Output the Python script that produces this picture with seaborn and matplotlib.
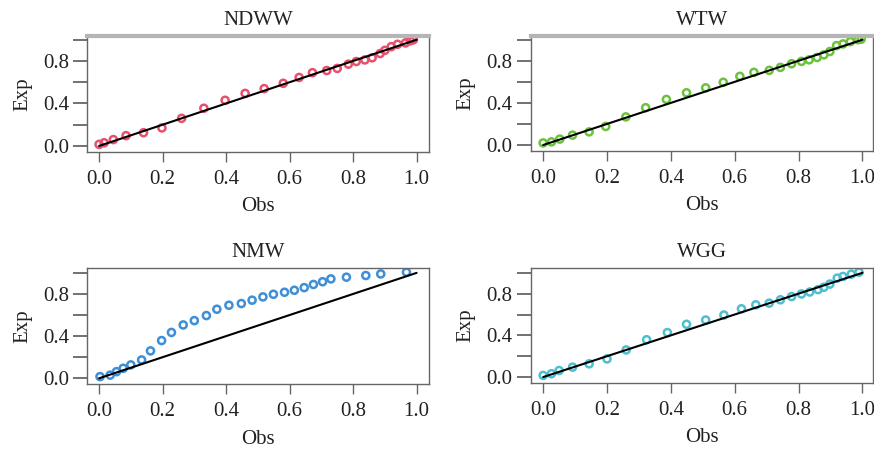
import numpy as np
import pandas as pd
import matplotlib
matplotlib.use("Agg")
import matplotlib.pyplot as plt
import seaborn as sns

titles = ["NDWW", "WTW", "NMW", "WGG"]
colors = ["#e8506e", "#6cc23c", "#3d8fd8", "#4fbfd0"]

ndww_obs = [0.0, 0.016, 0.045, 0.085, 0.14, 0.198, 0.26, 0.33, 0.397, 0.46, 0.52, 0.58, 0.63,
            0.672, 0.717, 0.75, 0.785, 0.81, 0.837, 0.86, 0.885, 0.9, 0.92, 0.94, 0.965, 0.98, 0.99]
ndww_exp = [0.015, 0.03, 0.06, 0.097, 0.125, 0.17, 0.26, 0.355, 0.43, 0.495, 0.54, 0.59, 0.645,
            0.69, 0.71, 0.73, 0.77, 0.795, 0.81, 0.83, 0.87, 0.9, 0.935, 0.957, 0.97, 0.99, 1.0]

wtw_obs = [0.0, 0.026, 0.052, 0.092, 0.144, 0.196, 0.259, 0.321, 0.386, 0.449, 0.509, 0.564, 0.616,
           0.66, 0.708, 0.743, 0.778, 0.809, 0.833, 0.858, 0.879, 0.898, 0.919, 0.939, 0.962, 0.986, 0.996]
wtw_exp = [0.02, 0.03, 0.056, 0.094, 0.125, 0.176, 0.267, 0.354, 0.433, 0.496, 0.543, 0.596, 0.652,
           0.69, 0.709, 0.737, 0.772, 0.794, 0.809, 0.831, 0.856, 0.888, 0.944, 0.96, 0.982, 1.0, 1.005]

nmw_obs = [0.003, 0.035, 0.055, 0.076, 0.1, 0.134, 0.162, 0.197, 0.228, 0.265, 0.3, 0.338, 0.371,
           0.409, 0.448, 0.482, 0.516, 0.549, 0.584, 0.615, 0.646, 0.675, 0.704, 0.73, 0.779, 0.84, 0.887, 0.968]
nmw_exp = [0.016, 0.03, 0.063, 0.095, 0.127, 0.174, 0.26, 0.358, 0.435, 0.506, 0.547, 0.595, 0.655,
           0.693, 0.709, 0.741, 0.772, 0.797, 0.816, 0.835, 0.86, 0.89, 0.916, 0.943, 0.959, 0.975, 0.99, 1.006]

wgg_obs = [0.0, 0.026, 0.05, 0.092, 0.144, 0.2, 0.26, 0.324, 0.389, 0.449, 0.509, 0.566, 0.621,
           0.666, 0.708, 0.743, 0.778, 0.809, 0.835, 0.861, 0.879, 0.898, 0.921, 0.939, 0.965, 0.989]
wgg_exp = [0.016, 0.032, 0.063, 0.095, 0.127, 0.174, 0.26, 0.358, 0.427, 0.506, 0.547, 0.595, 0.655,
           0.693, 0.709, 0.741, 0.772, 0.797, 0.816, 0.839, 0.861, 0.892, 0.949, 0.965, 0.987, 1.006]

ref_line = [0.0, 1.0]
x_ticks = [0.0, 0.2, 0.4, 0.6, 0.8, 1.0]
y_ticks = [0.0, 0.2, 0.4, 0.6, 0.8, 1.0]
y_ticklabels = ["0.0", "", "0.4", "", "0.8", ""]

series = [(ndww_obs, ndww_exp), (wtw_obs, wtw_exp), (nmw_obs, nmw_exp), (wgg_obs, wgg_exp)]

sns.set_theme(style="white")
plt.rcParams["font.family"] = ["Liberation Serif", "DejaVu Serif"]
plt.rcParams["text.color"] = "#222222"
plt.rcParams["axes.labelcolor"] = "#222222"
plt.rcParams["xtick.color"] = "#666666"
plt.rcParams["ytick.color"] = "#666666"
plt.rcParams["xtick.labelcolor"] = "#222222"
plt.rcParams["ytick.labelcolor"] = "#222222"

fig = plt.figure(figsize=(8.74, 4.51), dpi=100)
W, H = 874, 451
boxes = [
    (87.3, 429.0, 35.7, 151.7),
    (530.7, 873.0, 35.7, 150.7),
    (87.3, 429.0, 267.7, 384.3),
    (530.7, 873.0, 267.7, 383.0),
]
ylims = [(-0.054, 1.038), (-0.054, 1.038), (-0.057, 1.049), (-0.057, 1.049)]
xlims = [(-0.037, 1.039), (-0.039, 1.033), (-0.037, 1.039), (-0.039, 1.033)]

for i, (l, r, t, b) in enumerate(boxes):
    ax = fig.add_axes([l / W, 1 - b / H, (r - l) / W, (b - t) / H])
    obs, exp = series[i]
    df = pd.DataFrame({"Obs": obs, "Exp": exp})
    sns.scatterplot(data=df, x="Obs", y="Exp", ax=ax, marker="o", s=26,
                    facecolor="none", edgecolor=colors[i], linewidth=1.8, zorder=2)
    sns.lineplot(x=ref_line, y=ref_line, ax=ax, color="black", linewidth=1.5, zorder=3)
    ax.set_xlim(*xlims[i])
    ax.set_ylim(*ylims[i])
    ax.set_xticks(x_ticks)
    ax.set_xticklabels([f"{v:.1f}" for v in x_ticks])
    ax.set_yticks(y_ticks)
    ax.set_yticklabels(y_ticklabels)
    ax.tick_params(axis="x", bottom=True, direction="out", length=7, width=1.0, pad=6, labelsize=15)
    ax.tick_params(axis="y", left=True, direction="out", length=10, width=1.3, pad=3, labelsize=15)
    ax.set_xlabel("Obs", fontsize=15, labelpad=6)
    ax.set_ylabel("Exp", fontsize=15, labelpad=8)
    ax.set_title(titles[i], fontsize=15, pad=8)
    for side in ["left", "right", "bottom", "top"]:
        ax.spines[side].set_visible(True)
        ax.spines[side].set_color("#666666")
        ax.spines[side].set_linewidth(1.0)
    if i < 2:
        ax.spines["top"].set_color("#b5b5b5")
        ax.spines["top"].set_linewidth(3.0)

fig.savefig("out.png", dpi=100)
